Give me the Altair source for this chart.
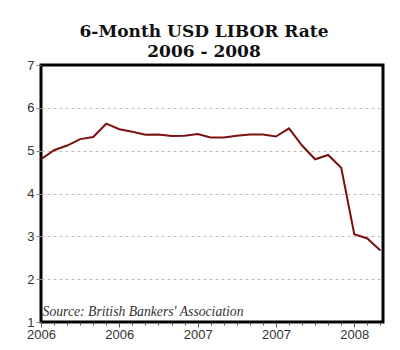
import altair as alt
import pandas as pd

# Monthly 6-month USD LIBOR, Jan 2006 .. Mar 2008 (month index 0..26)
month_index = list(range(27))
rates = [4.80, 5.01, 5.12, 5.27, 5.32, 5.63, 5.50, 5.44, 5.37, 5.38,
         5.34, 5.35, 5.39, 5.31, 5.31, 5.35, 5.38, 5.38, 5.33, 5.52,
         5.12, 4.80, 4.90, 4.60, 3.05, 2.95, 2.67]
y_ticks = [1, 2, 3, 4, 5, 6, 7]
source_note = ["Source: British Bankers' Association"]

df = pd.DataFrame({"m": month_index, "rate": rates})
note_df = pd.DataFrame({"m": [0.12], "rate": [1], "txt": source_note})

x_scale = alt.Scale(domain=[0, 26.2], nice=False, zero=False)
y_scale = alt.Scale(domain=[1, 7], nice=False, zero=False)

x_axis = alt.Axis(
    title=None,
    values=month_index,
    labelExpr="datum.value % 6 == 0 ? '' + (2006 + floor(datum.value / 12)) : ''",
    labelOverlap=False,
    labelFlush=False,
    tickSize={"condition": {"test": "datum.value % 6 == 0", "value": 5}, "value": 3},
    tickColor="#555",
    grid=False,
    domain=False,
    labelFont="Liberation Sans",
    labelFontSize=13,
    labelColor="#333",
    labelPadding=1,
)
y_axis = alt.Axis(
    title=None,
    values=y_ticks,
    tickSize=5,
    tickColor="#888",
    grid=True,
    gridDash=[3, 3],
    gridColor="#bbbbbb",
    gridOpacity={"condition": {"test": "datum.value == 1 || datum.value == 7", "value": 0}, "value": 1},
    domain=False,
    labelFont="Liberation Sans",
    labelFontSize=13,
    labelColor="#333",
    labelPadding=2,
)

line = alt.Chart(df).mark_line(color="#7a1010", strokeWidth=2).encode(
    x=alt.X("m:Q", scale=x_scale, axis=x_axis),
    y=alt.Y("rate:Q", scale=y_scale, axis=y_axis),
)

note = alt.Chart(note_df).mark_text(
    align="left", baseline="alphabetic", dy=-6,
    font="Liberation Serif", fontStyle="italic", fontSize=13.7, color="#333",
).encode(
    x=alt.X("m:Q", scale=x_scale, axis=x_axis),
    y=alt.Y("rate:Q", scale=y_scale, axis=y_axis),
    text="txt:N",
)

chart = alt.layer(line, note).properties(
    width=342,
    height=257,
    title=alt.TitleParams(
        text="6-Month USD LIBOR Rate",
        subtitle="2006 - 2008",
        font="DejaVu Serif",
        fontSize=17,
        fontWeight="bold",
        color="#111",
        subtitleFont="DejaVu Serif",
        subtitleFontSize=17,
        subtitleFontWeight="bold",
        subtitleColor="#111",
        subtitlePadding=3,
        anchor="middle",
        dx=-8,
        offset=-2,
    ),
    autosize=alt.AutoSizeParams(type="none"),
    padding={"left": 33, "top": 57, "right": 8, "bottom": 20},
).configure_view(stroke="black", strokeWidth=3)

chart.save("out.html", embed_options={"renderer": "svg", "actions": False})
